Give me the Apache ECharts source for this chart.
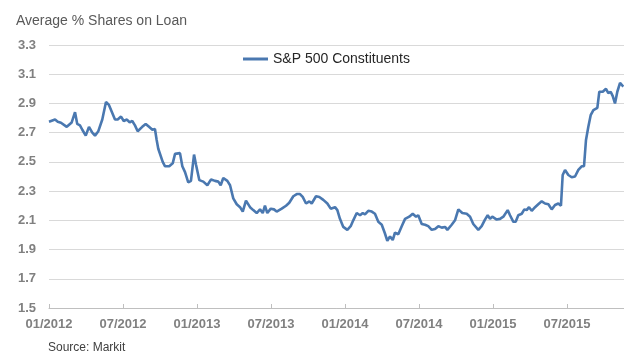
<!DOCTYPE html>
<html><head><meta charset="utf-8">
<script src="https://cdn.jsdelivr.net/npm/echarts@6/dist/echarts.min.js"></script>
<style>html,body{margin:0;padding:0;background:#fff}#c{width:624px;height:354px}</style>
</head><body><div id="c"></div>
<script>
// months elapsed since 01/2012
const months = [0.00,0.49,0.71,0.97,1.44,1.84,2.11,2.29,2.51,2.70,2.98,3.24,3.51,3.73,4.00,4.32,4.62,4.86,5.08,5.35,5.57,5.84,6.06,6.32,6.54,6.75,6.97,7.19,7.56,7.84,8.11,8.38,8.59,8.73,8.86,9.00,9.22,9.41,9.75,10.03,10.22,10.62,10.81,11.03,11.29,11.51,11.76,11.92,12.19,12.51,12.84,13.14,13.46,13.73,13.92,14.13,14.46,14.68,14.94,15.22,15.49,15.71,15.97,16.30,16.56,16.84,17.11,17.33,17.51,17.70,17.98,18.24,18.46,18.87,19.22,19.48,19.81,20.09,20.35,20.57,20.84,21.11,21.30,21.65,21.92,22.24,22.57,22.84,23.19,23.38,23.59,23.86,24.19,24.46,24.67,24.95,25.22,25.44,25.62,25.89,26.17,26.43,26.70,26.98,27.24,27.43,27.65,27.87,28.05,28.32,28.60,28.87,29.21,29.49,29.76,29.94,30.22,30.49,30.75,31.03,31.30,31.57,31.84,32.11,32.30,32.65,32.92,33.19,33.51,33.87,34.14,34.40,34.81,35.08,35.35,35.57,35.76,35.94,36.30,36.57,36.84,37.19,37.38,37.65,37.84,38.05,38.33,38.54,38.73,38.92,39.14,39.41,39.67,39.95,40.22,40.49,40.76,41.03,41.30,41.51,41.65,41.84,42.11,42.38,42.65,42.92,43.19,43.38,43.54,43.73,43.92,44.14,44.46,44.62,44.90,45.16,45.35,45.54,45.71,45.89,46.08,46.30,46.57];
const sharesOnLoan = [2.775,2.79,2.775,2.768,2.74,2.77,2.84,2.76,2.75,2.72,2.68,2.74,2.70,2.68,2.71,2.79,2.91,2.89,2.845,2.79,2.79,2.81,2.78,2.79,2.77,2.78,2.75,2.71,2.74,2.76,2.74,2.72,2.725,2.65,2.59,2.58,2.50,2.47,2.47,2.49,2.555,2.56,2.47,2.43,2.36,2.37,2.55,2.48,2.375,2.365,2.34,2.38,2.37,2.365,2.34,2.39,2.37,2.34,2.25,2.21,2.19,2.16,2.235,2.19,2.17,2.15,2.175,2.15,2.20,2.15,2.18,2.175,2.16,2.18,2.20,2.22,2.265,2.28,2.28,2.26,2.215,2.23,2.215,2.265,2.26,2.24,2.215,2.18,2.19,2.17,2.11,2.055,2.035,2.06,2.10,2.15,2.135,2.15,2.14,2.165,2.16,2.145,2.09,2.07,2.01,1.96,1.99,1.965,2.015,2.005,2.06,2.11,2.125,2.145,2.125,2.135,2.075,2.07,2.06,2.035,2.04,2.06,2.05,2.055,2.035,2.07,2.10,2.175,2.15,2.145,2.125,2.075,2.035,2.06,2.105,2.135,2.11,2.125,2.105,2.11,2.125,2.17,2.135,2.09,2.09,2.135,2.145,2.175,2.17,2.19,2.165,2.19,2.21,2.23,2.215,2.21,2.175,2.205,2.215,2.20,2.41,2.445,2.41,2.395,2.40,2.445,2.47,2.47,2.65,2.74,2.82,2.855,2.87,2.98,2.98,3.00,2.97,2.98,2.95,2.90,2.98,3.04,3.015];
const xTickLabels = ['01/2012','07/2012','01/2013','07/2013','01/2014','07/2014','01/2015','07/2015'];
const seriesName = 'S&P 500 Constituents';
const titleText = 'Average % Shares on Loan';
const sourceText = 'Source: Markit';

const data = months.map((m, i) => [m, sharesOnLoan[i]]);
const chart = echarts.init(document.getElementById('c'), null, {renderer: 'canvas'});
const font = 'Liberation Sans, Arial, sans-serif';
chart.setOption({
  backgroundColor: '#ffffff',
  animation: false,
  grid: {left: 49, right: -17, top: 45, bottom: 46, containLabel: false, outerBoundsMode: 'none'},
  legend: {
    data: [seriesName], left: 238, top: 47,
    icon: 'rect', itemWidth: 25, itemHeight: 3,
    textStyle: {fontFamily: font, fontSize: 14, color: '#262626'}
  },
  xAxis: {
    type: 'value', min: 0, max: 48, interval: 6,
    axisLine: {show: true, lineStyle: {color: '#bfbfbf', width: 1}},
    axisTick: {show: true, length: 4, inside: true, lineStyle: {color: '#bfbfbf'}},
    splitLine: {show: false},
    axisLabel: {
      margin: 10, fontFamily: font, fontSize: 13, fontWeight: 'bold', color: '#808080',
      formatter: v => xTickLabels[Math.round(v / 6)] || ''
    }
  },
  yAxis: {
    type: 'value', min: 1.5, max: 3.3, interval: 0.2,
    axisLine: {show: false}, axisTick: {show: false},
    splitLine: {show: true, lineStyle: {color: '#d9d9d9', width: 1}},
    axisLabel: {
      margin: 13, fontFamily: font, fontSize: 13, fontWeight: 'bold', color: '#808080',
      formatter: v => v.toFixed(1)
    }
  },
  series: [{
    name: seriesName, type: 'line', data: data, showSymbol: false, smooth: false,
    lineStyle: {color: '#4a78b0', width: 2.6}, itemStyle: {color: '#4a78b0'}
  }],
  graphic: [
    {type: 'text', left: 16, top: 14, style: {text: titleText, font: '14px ' + font, fill: '#595959'}},
    {type: 'text', left: 48, top: 342, style: {text: sourceText, font: '12px ' + font, fill: '#404040'}}
  ]
});
</script></body></html>
